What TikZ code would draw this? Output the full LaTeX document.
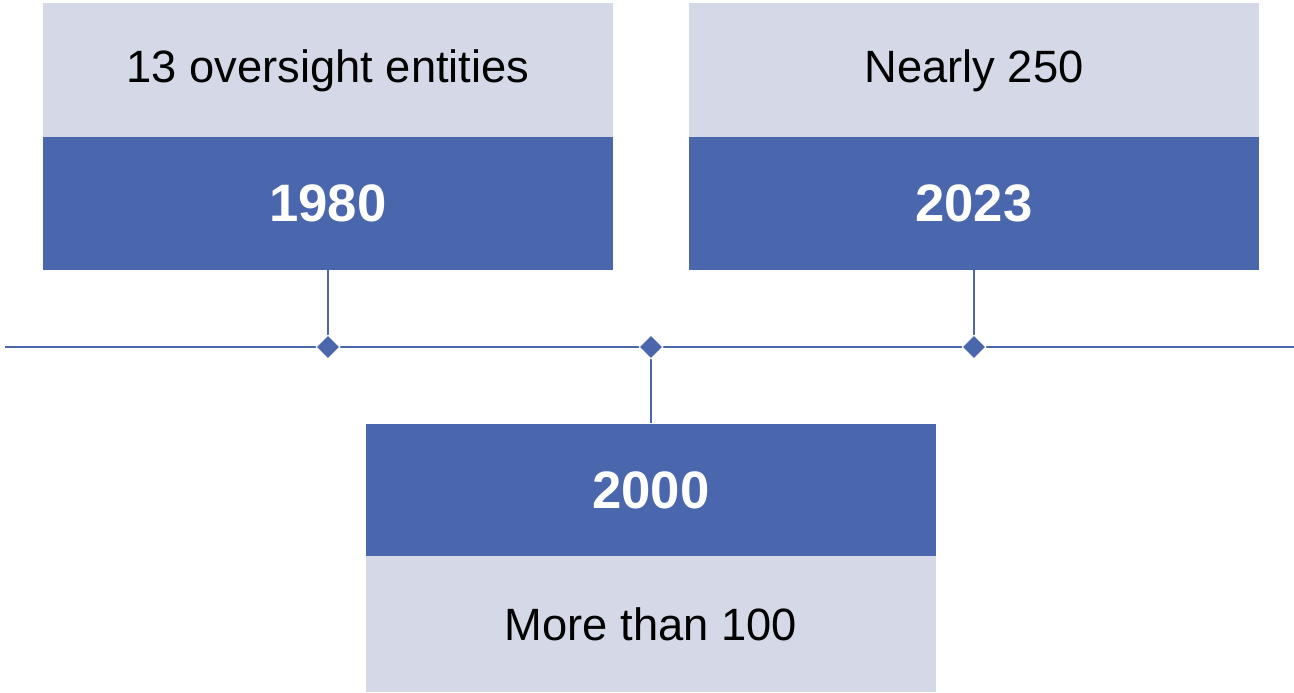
\documentclass[tikz,border=0pt]{standalone}
\usepackage{fontspec}
\setmainfont{Liberation Sans}
\usetikzlibrary{shapes.geometric}
\definecolor{dark}{HTML}{4A66AD}
\definecolor{light}{HTML}{D4D8E7}
\begin{document}
\begin{tikzpicture}[x=1pt,y=-1pt,
  lightbox/.style={fill=light,draw=none,minimum width=570pt,minimum height=135pt,inner sep=0pt,font=\fontsize{45.3}{50}\selectfont,text=black},
  darkbox/.style={fill=dark,draw=none,minimum width=570pt,minimum height=133pt,inner sep=0pt,font=\fontsize{52.7}{58}\selectfont\bfseries,text=white},
  marker/.style={diamond,fill=dark,draw=white,line width=1pt,minimum size=24pt,inner sep=0pt},
  conn/.style={draw=dark,line width=1.3pt}]
\useasboundingbox (0,0) rectangle (1294,693);
% boxes
\node[lightbox] (l1) at (328,70.5) {13 oversight entities};
\node[darkbox] (d1) at (328,203.5) {1980};
\node[lightbox] (l2) at (974,70.5) {Nearly 250};
\node[darkbox] (d2) at (974,203.5) {2023};
\node[darkbox] (d3) at (651,490) {2000};
\node[lightbox,minimum height=136pt] (l3) at (651,624) {More than 100};
% timeline
\coordinate (tl) at (5,347);
\coordinate (tr) at (1294,347);
\draw[conn,line width=2pt] (tl) -- (tr);
% connectors
\coordinate (m1) at (328,347);
\coordinate (m2) at (651,347);
\coordinate (m3) at (974,347);
\draw[conn] (d1.south) -- (m1);
\draw[conn] (d2.south) -- (m3);
\draw[conn] (m2) -- (d3.north);
\node[marker] (k1) at (m1) {};
\node[marker] (k2) at (m2) {};
\node[marker] (k3) at (m3) {};
\end{tikzpicture}
\end{document}
